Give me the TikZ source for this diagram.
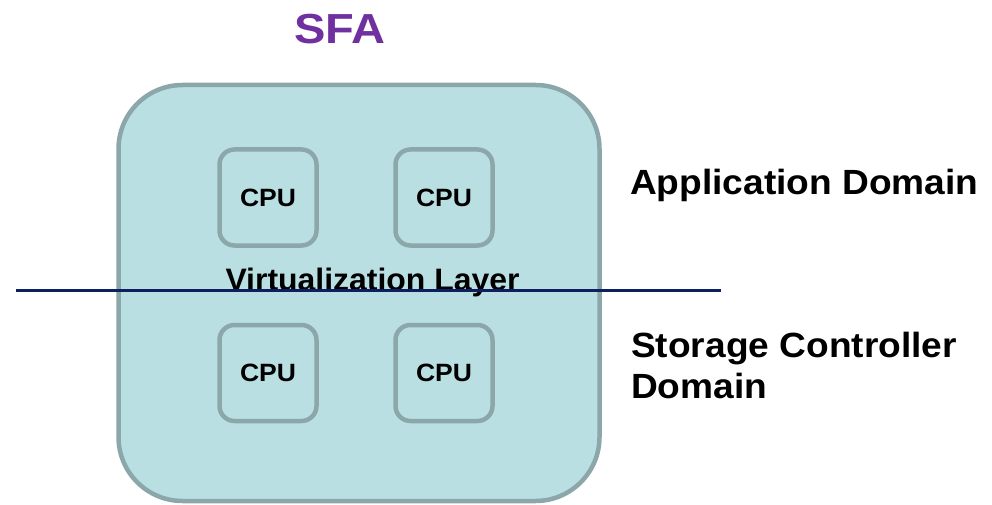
\documentclass[tikz,border=0pt]{standalone}
\usepackage{fontspec}
\setmainfont{Liberation Sans}[FakeStretch=1.06]
\definecolor{boxfill}{HTML}{B9DFE2}
\definecolor{boxedge}{HTML}{8BA7A9}
\definecolor{sfapurple}{HTML}{7030A0}
\definecolor{splitline}{RGB}{12,32,96}
\tikzset{
  chassis/.style={draw=boxedge, fill=boxfill, line width=4.5pt, rounded corners=64pt,
    minimum width=481pt, minimum height=416pt, inner sep=0pt},
  cpubox/.style={draw=boxedge, fill=boxfill, line width=4.5pt, rounded corners=15pt,
    minimum width=97pt, minimum height=96pt, inner sep=0pt,
    font=\fontsize{25}{30}\selectfont\bfseries},
  domainlabel/.style={anchor=base west, inner sep=0pt, align=left,
    font=\fontsize{35}{41.5}\selectfont\bfseries},
}
\begin{document}
\begin{tikzpicture}[x=1pt,y=-1pt]
  \useasboundingbox (0,0) rectangle (992,505);
  % enclosure
  \node[chassis] (sfa) at (359,293) {};
  \node[anchor=base, inner sep=0pt, text=sfapurple,
        font=\fontsize{42}{50}\selectfont\bfseries\addfontfeature{FakeStretch=1.12}] (title) at (340,43.5) {SFA};
  % processors
  \node[cpubox] (cpu1) at (268,197.5) {CPU};
  \node[cpubox] (cpu2) at (444,197.5) {CPU};
  \node[cpubox] (cpu3) at (268,373) {CPU};
  \node[cpubox] (cpu4) at (444,373) {CPU};
  % layer label and dividing line
  \node[anchor=base, inner sep=0pt,
        font=\fontsize{31}{36}\selectfont\bfseries\addfontfeature{FakeStretch=1.03}]
    (virt) at (372.5,290) {Virtualization Layer};
  \coordinate (divl) at (16,290.5);
  \coordinate (divr) at (721,290.5);
  \draw[splitline, line width=2.2pt] (divl) -- (divr);
  % domain labels
  \node[domainlabel] (app) at (630,194) {Application Domain};
  \node[domainlabel] (stor) at (631,398.5) {Storage Controller\\Domain};
\end{tikzpicture}
\end{document}
